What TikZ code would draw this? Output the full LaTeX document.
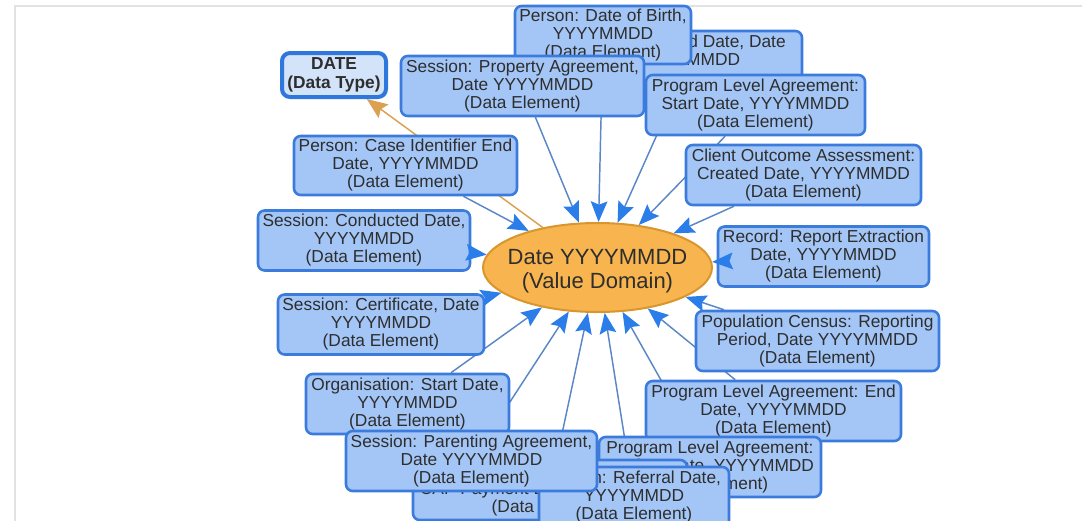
\documentclass[tikz,border=0pt]{standalone}
\usepackage{fontspec}
\setmainfont{Liberation Sans}
\usetikzlibrary{arrows.meta,shapes.geometric}
\pgfdeclarelayer{bg}
\pgfdeclarelayer{fg}
\pgfsetlayers{bg,main,fg}
\definecolor{boxfill}{HTML}{A3C6F7}
\definecolor{boxborder}{HTML}{3A7BDC}
\definecolor{dtfill}{HTML}{D3E3FA}
\definecolor{dtborder}{HTML}{2F77DD}
\definecolor{vdfill}{HTML}{F8B44E}
\definecolor{vdborder}{HTML}{D8962C}
\definecolor{txt}{HTML}{2E2E2E}
\definecolor{eblue}{HTML}{5B87C5}
\definecolor{tipblue}{HTML}{2B7DE9}
\definecolor{eorange}{HTML}{DBA050}
\definecolor{framec}{HTML}{E2E2E2}
\tikzset{
  sz/.style 2 args={minimum width=#1*0.75pt, minimum height=#2*0.75pt},
  de/.style={draw=boxborder, fill=boxfill, line width=1.9pt, rounded corners=5pt,
    inner sep=0pt, align=center, text=txt, font=\fontsize{13}{13.5}\selectfont},
  datatype/.style={draw=dtborder, fill=dtfill, line width=3pt, rounded corners=6pt,
    inner sep=0pt, align=center, text=txt, font=\bfseries\fontsize{13}{14.2}\selectfont},
  vd/.style={ellipse, draw=vdborder, fill=vdfill, line width=1.5pt, inner sep=0pt},
  vdtext/.style={align=center, text=txt, font=\fontsize{16.5}{18}\selectfont,
    inner sep=0pt, yshift=-3pt},
  eline/.style={draw=eblue, line width=1.1pt, shorten >=6pt},
  etip/.style={draw=tipblue, line width=1.1pt, line cap=butt,
    dash pattern=on 0pt off 5000pt,
    -{Stealth[length=15.5pt,width=12.5pt,inset=2.5pt]}},
  oline/.style={draw=eorange, line width=1.1pt,
    -{Stealth[length=15.5pt,width=12.5pt,inset=2.5pt]}},
}
\begin{document}
\begin{tikzpicture}[x=0.75pt,y=-0.75pt]
\useasboundingbox (0,0) rectangle (1082,521);
\node[datatype, sz={104}{44}] (dt) at (334,75) {DATE\\(Data Type)};
\node[de, sz={224}{60}] (endd) at (690,61) {Session: End Date, Date\\YYYYMMDD\\\phantom{(Data Element)}};
\node[de, sz={176}{58}] (dob) at (603,35) {Person: Date of Birth,\\YYYYMMDD\\(Data Element)};
\node[de, sz={243}{60}] (prop) at (522.5,86) {Session: Property Agreement,\\Date YYYYMMDD\\(Data Element)};
\node[de, sz={219}{60}] (plas) at (755.5,105) {Program Level Agreement:\\Start Date, YYYYMMDD\\(Data Element)};
\node[de, sz={223}{59}] (case) at (405.5,165.5) {Person: Case Identifier End\\Date, YYYYMMDD\\(Data Element)};
\node[de, sz={235}{60}] (coa) at (803.5,175) {Client Outcome Assessment:\\Created Date, YYYYMMDD\\(Data Element)};
\node[de, sz={212}{60}] (cond) at (364,240.5) {Session: Conducted Date,\\YYYYMMDD\\(Data Element)};
\node[de, sz={211}{60}] (rec) at (823.5,256.5) {Record: Report Extraction\\Date, YYYYMMDD\\(Data Element)};
\node[vd, sz={229}{89}] (vdom) at (597.5,267.5) {};
\node[vdtext] (vdlab) at (vdom.center) {Date YYYYMMDD\\(Value Domain)};
\node[de, sz={206}{60}] (cert) at (381,324.5) {Session: Certificate, Date\\YYYYMMDD\\(Data Element)};
\node[de, sz={243}{60}] (pop) at (817.5,341) {Population Census: Reporting\\Period, Date YYYYMMDD\\(Data Element)};
\node[de, sz={255}{60}] (plae) at (773.5,411) {Program Level Agreement: End\\Date, YYYYMMDD\\(Data Element)};
\node[de, sz={203}{60}] (org) at (407.5,404) {Organisation: Start Date,\\YYYYMMDD\\(Data Element)};
\node[de, sz={222}{60}] (plar) at (710,467) {Program Level Agreement:\\Review Date, YYYYMMDD\\(Data Element)};
\node[de, sz={274}{60}] (pay) at (550,490) {Session: Fee,\\CAP Payment Date, YYYYMMDD\\(Data Element)};
\node[de, sz={190}{60}] (refd) at (634,497) {Person: Referral Date,\\YYYYMMDD\\(Data Element)};
\node[de, sz={251}{60}] (par) at (471.5,461) {Session: Parenting Agreement,\\Date YYYYMMDD\\(Data Element)};
\begin{pgfonlayer}{bg}
  \draw[framec, line width=1.4pt] (15,521) -- (15,6) -- (1082,6);
  \foreach \n in {case,cond,cert,org,par,pay,refd,plar,plae,pop,rec,coa,plas,endd,dob,prop}
    \draw[eline] (\n) -- (vdom);
  \draw[oline] (vdom) -- (dt);
\end{pgfonlayer}
\begin{pgfonlayer}{fg}
  \foreach \n in {case,cond,cert,org,par,pay,refd,plar,plae,pop,rec,coa,plas,endd,dob,prop}
    \draw[etip] (\n) -- (vdom);
\end{pgfonlayer}
\end{tikzpicture}
\end{document}
